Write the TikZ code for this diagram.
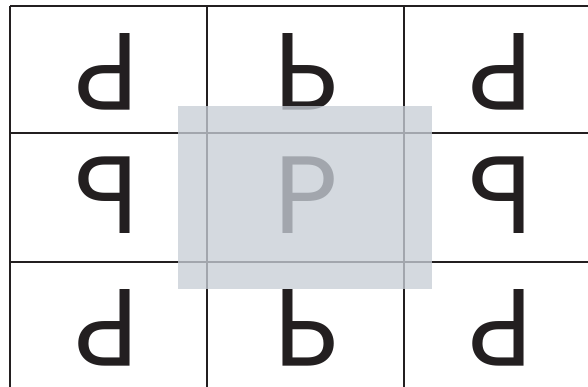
\documentclass[tikz,border=0pt]{standalone}
\usepackage{fontspec}
\setmainfont{Poppins}
\definecolor{gridink}{RGB}{35,31,32}
\definecolor{veil}{RGB}{199,206,214}
\tikzset{
  gridline/.style={draw=gridink, line width=1.6pt},
  glyph/.style={inner sep=0pt, text=gridink, font=\fontsize{110}{110}\selectfont},
  veilbox/.style={fill=veil, fill opacity=0.775, draw=none}
}
\begin{document}
\begin{tikzpicture}[x=1pt, y=-1pt]
\useasboundingbox (0,0) rectangle (588,387);
% grid
\foreach \gx in {10,207,404} \draw[gridline] (\gx,6) -- (\gx,387);
\foreach \gy in {6,133,262} \draw[gridline] (10,\gy) -- (588,\gy);
% reflected letters
\node[glyph, rotate=180] (tl) at (107,72) {P};
\node[glyph, yscale=-1] (tm) at (306,72) {P};
\node[glyph, rotate=180] (tr) at (501,72) {P};
\node[glyph, xscale=-1] (ml) at (107,195) {P};
\node[glyph] (mm) at (306,195) {P};
\node[glyph, xscale=-1] (mr) at (501,195) {P};
\node[glyph, rotate=180] (bl) at (107,328) {P};
\node[glyph, yscale=-1] (bm) at (306,328) {P};
\node[glyph, rotate=180] (br) at (501,328) {P};
% translucent cell
\fill[veilbox] (178,106) rectangle (432,289);
\end{tikzpicture}
\end{document}
